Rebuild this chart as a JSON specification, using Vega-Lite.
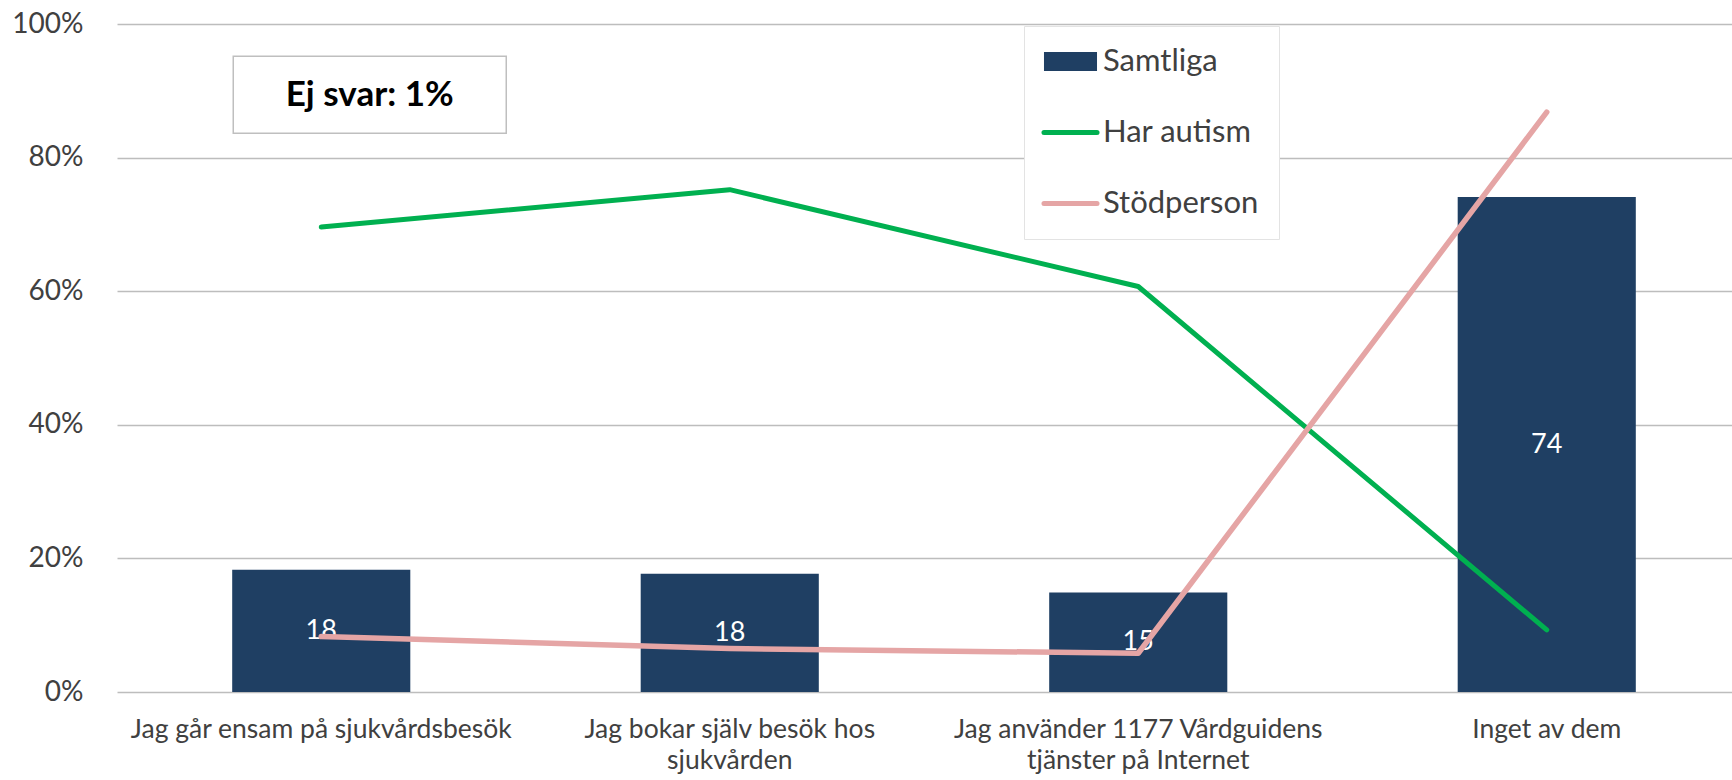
{
  "$schema": "https://vega.github.io/schema/vega-lite/v6.json",
  "autosize": {"type": "none"},
  "width": 1634,
  "height": 668,
  "padding": {"left": 117, "top": 24, "right": 0, "bottom": 88},
  "background": "white",
  "config": {
    "view": {"stroke": null},
    "font": "Lato",
    "axis": {"labelFont": "Lato", "labelColor": "#404040"}
  },
  "datasets": {
    "main": [
      {"category": "Jag går ensam på sjukvårdsbesök", "series": "Samtliga", "value": 18.3, "label": "18"},
      {"category": "Jag bokar själv besök hos sjukvården", "series": "Samtliga", "value": 17.7, "label": "18"},
      {"category": "Jag använder 1177 Vårdguidens tjänster på Internet", "series": "Samtliga", "value": 14.9, "label": "15"},
      {"category": "Inget av dem", "series": "Samtliga", "value": 74.1, "label": "74"},
      {"category": "Jag går ensam på sjukvårdsbesök", "series": "Har autism", "value": 69.6},
      {"category": "Jag bokar själv besök hos sjukvården", "series": "Har autism", "value": 75.2},
      {"category": "Jag använder 1177 Vårdguidens tjänster på Internet", "series": "Har autism", "value": 60.7},
      {"category": "Inget av dem", "series": "Har autism", "value": 9.3},
      {"category": "Jag går ensam på sjukvårdsbesök", "series": "Stödperson", "value": 8.3},
      {"category": "Jag bokar själv besök hos sjukvården", "series": "Stödperson", "value": 6.5},
      {"category": "Jag använder 1177 Vårdguidens tjänster på Internet", "series": "Stödperson", "value": 5.8},
      {"category": "Inget av dem", "series": "Stödperson", "value": 86.8}
    ],
    "note": [
      {"category": "Jag går ensam på sjukvårdsbesök", "value": 89.4, "label": "Ej svar: 1%"}
    ]
  },
  "encoding": {
    "x": {
      "field": "category",
      "type": "nominal",
      "sort": null,
      "scale": {"domain": ["Jag går ensam på sjukvårdsbesök", "Jag bokar själv besök hos sjukvården", "Jag använder 1177 Vårdguidens tjänster på Internet", "Inget av dem"], "paddingInner": 0.564, "paddingOuter": 0.282},
      "axis": {
        "title": null,
        "labelAngle": 0,
        "domain": false,
        "ticks": false,
        "labelFontSize": 26.5,
        "labelPadding": 24,
        "labelLineHeight": 31,
        "labelLimit": 500,
        "labelExpr": "datum.value == 'Jag bokar själv besök hos sjukvården' ? ['Jag bokar själv besök hos', 'sjukvården'] : datum.value == 'Jag använder 1177 Vårdguidens tjänster på Internet' ? ['Jag använder 1177 Vårdguidens', 'tjänster på Internet'] : datum.value"
      }
    }
  },
  "resolve": {"scale": {"y": "independent"}, "axis": {"y": "independent"}},
  "layer": [
    {
      "data": {"name": "main"},
      "transform": [{"filter": "datum.series == 'Samtliga'"}],
      "mark": {"type": "bar", "fill": "#1f3f63"},
      "encoding": {
        "y": {
          "field": "value",
          "type": "quantitative",
          "scale": {"domain": [0, 100], "nice": false},
          "axis": {
            "title": null,
            "values": [0, 20, 40, 60, 80, 100],
            "labelExpr": "datum.value + '%'",
            "labelFontSize": 28,
            "labelPadding": 34,
            "domain": false,
            "ticks": false,
            "gridColor": "#bdbdbd",
            "gridWidth": 1.6
          }
        },
        "color": {
          "field": "series",
          "type": "nominal",
          "scale": {"domain": ["Samtliga", "Har autism", "Stödperson"], "range": ["#1f3f63", "#00b050", "#e5a5a5"]},
          "legend": {
            "title": null,
            "orient": "none",
            "legendX": 907,
            "legendY": 2,
            "direction": "vertical",
            "padding": 20,
            "fillColor": "white",
            "strokeColor": "#e3e3e3",
            "symbolSize": 703,
            "symbolOffset": 11,
            "labelOffset": 17,
            "labelFont": "Lato",
            "labelFontSize": 31,
            "labelColor": "#404040",
            "labelLimit": 400,
            "rowPadding": 39,
            "encode": {
              "symbols": {
                "update": {
                  "shape": {"signal": "datum.value === 'Samtliga' ? 'M-2,-0.72H2V0.72H-2Z' : 'M-2,0H2'"},
                  "fill": {"signal": "datum.value === 'Samtliga' ? '#1f3f63' : 'transparent'"},
                  "stroke": {"signal": "datum.value === 'Samtliga' ? 'transparent' : (datum.value === 'Har autism' ? '#00b050' : '#e5a5a5')"},
                  "strokeWidth": {"signal": "datum.value === 'Samtliga' ? 0 : 5"},
                  "strokeCap": {"value": "round"},
                  "opacity": {"value": 1},
                  "fillOpacity": {"value": 1},
                  "strokeOpacity": {"value": 1}
                }
              }
            }
          }
        }
      }
    },
    {
      "data": {"name": "main"},
      "transform": [{"filter": "datum.series == 'Samtliga'"}],
      "mark": {"type": "text", "color": "white", "fontSize": 27, "font": "Lato", "baseline": "middle"},
      "encoding": {
        "y": {"field": "value", "type": "quantitative", "scale": {"domain": [0, 200], "nice": false}, "axis": null},
        "text": {"field": "label"}
      }
    },
    {
      "encoding": {
        "y": {"field": "value", "type": "quantitative", "scale": {"domain": [0, 100], "nice": false}, "axis": null}
      },
      "layer": [
        {
          "data": {"name": "main"},
          "transform": [{"filter": "datum.series != 'Samtliga'"}],
          "mark": {"type": "line", "strokeCap": "round", "strokeJoin": "round"},
          "encoding": {
            "color": {"field": "series", "type": "nominal"},
            "strokeWidth": {"condition": {"test": "datum.series == 'Stödperson'", "value": 5.5}, "value": 5}
          }
        },
        {
          "data": {"name": "note"},
          "mark": {"type": "point", "shape": "M-1,-0.282H1V0.282H-1Z", "size": 74529, "filled": false, "fill": "white", "stroke": "#bfbfbf", "strokeWidth": 1.5, "opacity": 1, "xOffset": 48.5}
        },
        {
          "data": {"name": "note"},
          "mark": {"type": "text", "fontSize": 35, "fontWeight": "bold", "font": "Lato", "color": "#000000", "baseline": "middle", "xOffset": 48.5},
          "encoding": {"text": {"field": "label"}}
        }
      ]
    }
  ]
}
